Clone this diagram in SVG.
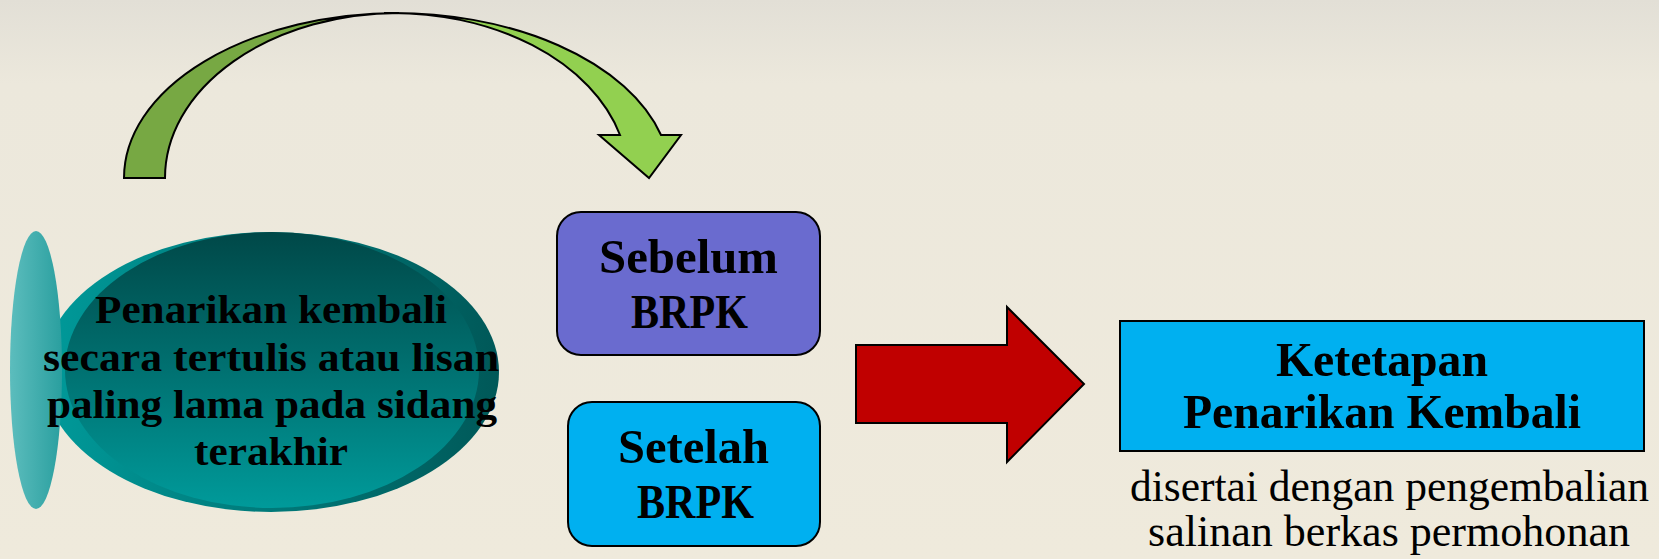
<svg xmlns="http://www.w3.org/2000/svg" width="1659" height="559" viewBox="0 0 1659 559">
<defs>
<linearGradient id="bg" x1="0" y1="0" x2="0" y2="1">
<stop offset="0" stop-color="#e2dfd6"/>
<stop offset="0.15" stop-color="#ece8dc"/>
<stop offset="1" stop-color="#efeadc"/>
</linearGradient>
<linearGradient id="outerG" x1="0" y1="0" x2="1" y2="0">
<stop offset="0" stop-color="#009a9a"/>
<stop offset="1" stop-color="#005858"/>
</linearGradient>
<linearGradient id="innerG" x1="0" y1="0" x2="0" y2="1">
<stop offset="0" stop-color="#004848"/>
<stop offset="1" stop-color="#009a9a"/>
</linearGradient>
<linearGradient id="smallG" x1="0" y1="0" x2="1" y2="0">
<stop offset="0" stop-color="#5cbdbd"/>
<stop offset="1" stop-color="#2a9f9f"/>
</linearGradient>
<style>
.bold{font-family:"Liberation Serif",serif;font-weight:bold;fill:#000;text-anchor:middle}
.reg{font-family:"Liberation Serif",serif;fill:#000;text-anchor:middle}
.ol{stroke:#000;stroke-width:2}
</style>
</defs>
<rect width="1659" height="559" fill="url(#bg)"/>

<g id="connectors">
<g id="curved-arrow" class="ol" stroke-linejoin="miter">
<path d="M124,178 A275,165 0 0 1 399,13 A234,165 0 0 0 165,178 Z" fill="#77a843"/>
<path d="M384,13 A277,165 0 0 1 661,135 L681,135 L649,178 L599,135 L620,135 A236,165 0 0 0 384,13 Z" fill="#92d050"/>
</g>
<path id="red-arrow" class="ol" d="M856,345 L1007,345 L1007,307 L1084,384 L1007,462 L1007,423 L856,423 Z" fill="#c00000"/>
</g>

<g id="node-penarikan">
<ellipse cx="271" cy="372" rx="228" ry="140" fill="url(#outerG)"/>
<ellipse cx="272" cy="370" rx="207" ry="138" fill="url(#innerG)"/>
<ellipse cx="36" cy="370" rx="26" ry="139" fill="url(#smallG)"/>
<text class="bold" font-size="39" x="271" y="323" textLength="352" lengthAdjust="spacingAndGlyphs">Penarikan kembali</text>
<text class="bold" font-size="39" x="271" y="371" textLength="456" lengthAdjust="spacingAndGlyphs">secara tertulis atau lisan</text>
<text class="bold" font-size="39" x="272" y="418" textLength="450" lengthAdjust="spacingAndGlyphs">paling lama pada sidang</text>
<text class="bold" font-size="39" x="271" y="465" textLength="154" lengthAdjust="spacingAndGlyphs">terakhir</text>
</g>

<g id="node-sebelum">
<rect class="ol" x="557" y="212" width="263" height="143" rx="24" fill="#6a6bcf"/>
<text class="bold" font-size="48" x="688.5" y="273" textLength="179" lengthAdjust="spacingAndGlyphs">Sebelum</text>
<text class="bold" font-size="48" x="689.5" y="328" textLength="117" lengthAdjust="spacingAndGlyphs">BRPK</text>
</g>

<g id="node-setelah">
<rect class="ol" x="568" y="402" width="252" height="144" rx="24" fill="#00b0f0"/>
<text class="bold" font-size="48" x="693.5" y="463" textLength="151" lengthAdjust="spacingAndGlyphs">Setelah</text>
<text class="bold" font-size="48" x="695.5" y="518" textLength="117" lengthAdjust="spacingAndGlyphs">BRPK</text>
</g>

<g id="node-ketetapan">
<rect class="ol" x="1120" y="321" width="524" height="130" fill="#00b0f0"/>
<text class="bold" font-size="49" x="1382" y="376" textLength="212" lengthAdjust="spacingAndGlyphs">Ketetapan</text>
<text class="bold" font-size="49" x="1382" y="428" textLength="398" lengthAdjust="spacingAndGlyphs">Penarikan Kembali</text>
</g>

<g id="note">
<text class="reg" font-size="44" x="1389.5" y="501" textLength="519" lengthAdjust="spacingAndGlyphs">disertai dengan pengembalian</text>
<text class="reg" font-size="44" x="1389" y="546" textLength="482" lengthAdjust="spacingAndGlyphs">salinan berkas permohonan</text>
</g>
</svg>
